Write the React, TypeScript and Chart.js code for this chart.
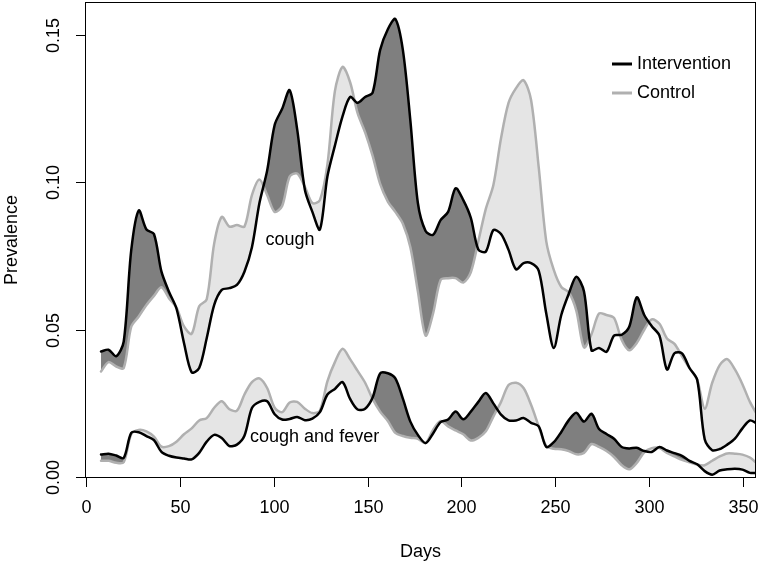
import React, { useEffect, useRef } from "react";
import Chart from "chart.js/auto";

const days = [8, 12, 16.1, 20.1, 24.1, 28.1, 32.2, 36.2, 40.2, 44.2, 48.2, 52.2, 56.3, 60.3, 64.3, 68.3, 72.3, 76.4, 80.4, 84.4, 88.4, 92.4, 96.5, 100.5, 104.5, 108.5, 112.5, 116.6, 120.6, 124.6, 128.6, 132.6, 136.7, 140.7, 144.7, 148.7, 152.7, 156.7, 160.8, 164.8, 168.8, 172.8, 176.8, 180.9, 184.9, 188.9, 192.9, 196.9, 201, 205, 209, 213, 217, 221.1, 225.1, 229.1, 233.1, 237.1, 241.2, 245.2, 249.2, 253.2, 257.2, 261.2, 265.3, 269.3, 273.3, 277.3, 281.3, 285.4, 289.4, 293.4, 297.4, 301.4, 305.5, 309.5, 313.5, 317.5, 321.5, 325.6, 329.6, 333.6, 337.6, 341.6, 345.7, 349.7, 353.7, 357.7];

const coughIntervention = [0.0426, 0.0432, 0.041, 0.046, 0.077, 0.0905, 0.084, 0.0825, 0.0697, 0.0629, 0.0572, 0.0455, 0.0355, 0.037, 0.0471, 0.0584, 0.0635, 0.0641, 0.0652, 0.0697, 0.078, 0.093, 0.104, 0.1195, 0.125, 0.1313, 0.118, 0.0975, 0.09, 0.084, 0.102, 0.1125, 0.1225, 0.129, 0.127, 0.129, 0.1305, 0.145, 0.152, 0.1555, 0.145, 0.121, 0.093, 0.0835, 0.0822, 0.0872, 0.09, 0.098, 0.094, 0.088, 0.0772, 0.0765, 0.0838, 0.0825, 0.0771, 0.0705, 0.0726, 0.0726, 0.07, 0.0555, 0.0438, 0.055, 0.0622, 0.068, 0.063, 0.043, 0.0438, 0.0425, 0.048, 0.0483, 0.051, 0.061, 0.055, 0.0512, 0.048, 0.0365, 0.042, 0.042, 0.037, 0.033, 0.0128, 0.0091, 0.0095, 0.011, 0.013, 0.0165, 0.0192, 0.018];

const coughControl = [0.0358, 0.039, 0.0375, 0.037, 0.051, 0.0545, 0.0584, 0.0615, 0.0644, 0.0607, 0.0575, 0.0511, 0.0486, 0.058, 0.0603, 0.0793, 0.0883, 0.085, 0.0855, 0.085, 0.0957, 0.101, 0.0957, 0.09, 0.092, 0.102, 0.103, 0.0985, 0.093, 0.094, 0.106, 0.131, 0.1392, 0.134, 0.1235, 0.117, 0.109, 0.0995, 0.0935, 0.09, 0.086, 0.078, 0.063, 0.048, 0.0555, 0.0669, 0.0675, 0.0675, 0.066, 0.0695, 0.08, 0.091, 0.099, 0.115, 0.127, 0.132, 0.1347, 0.128, 0.105, 0.08, 0.0703, 0.0645, 0.0627, 0.0565, 0.044, 0.0485, 0.0555, 0.055, 0.054, 0.0465, 0.043, 0.0455, 0.05, 0.0535, 0.052, 0.047, 0.0452, 0.041, 0.037, 0.033, 0.0232, 0.032, 0.038, 0.04, 0.0365, 0.0315, 0.0255, 0.021];

const feverIntervention = [0.0076, 0.0079, 0.0073, 0.0065, 0.015, 0.0152, 0.0139, 0.0125, 0.0085, 0.0072, 0.0066, 0.0063, 0.006, 0.0082, 0.012, 0.0143, 0.0132, 0.0105, 0.011, 0.014, 0.0234, 0.0255, 0.0257, 0.0213, 0.0195, 0.0197, 0.0204, 0.0193, 0.0198, 0.022, 0.028, 0.0299, 0.0322, 0.0265, 0.0229, 0.0232, 0.027, 0.0352, 0.0352, 0.0335, 0.0266, 0.0188, 0.0143, 0.0115, 0.0148, 0.0186, 0.0195, 0.0222, 0.0196, 0.0222, 0.0255, 0.0285, 0.025, 0.0212, 0.0192, 0.0192, 0.02, 0.0184, 0.0172, 0.0102, 0.0118, 0.0153, 0.0193, 0.0218, 0.0188, 0.0215, 0.0163, 0.0146, 0.013, 0.0102, 0.0097, 0.0099, 0.0088, 0.0085, 0.0102, 0.009, 0.0081, 0.0072, 0.0055, 0.0043, 0.002, 0.0008, 0.0022, 0.0026, 0.0028, 0.0025, 0.0014, 0.0014];

const feverControl = [0.0055, 0.0055, 0.0048, 0.005, 0.0145, 0.016, 0.0155, 0.0137, 0.0103, 0.0105, 0.012, 0.0145, 0.0165, 0.0192, 0.02, 0.0235, 0.0257, 0.023, 0.0225, 0.028, 0.0322, 0.0335, 0.0302, 0.0235, 0.022, 0.0253, 0.0255, 0.0232, 0.0217, 0.0225, 0.0325, 0.039, 0.0435, 0.04, 0.036, 0.032, 0.0265, 0.0222, 0.019, 0.015, 0.0139, 0.0133, 0.013, 0.0115, 0.016, 0.019, 0.0172, 0.0158, 0.0145, 0.0124, 0.0133, 0.0155, 0.0205, 0.0255, 0.0312, 0.032, 0.0302, 0.0245, 0.0172, 0.0105, 0.0096, 0.0094, 0.0088, 0.0077, 0.0082, 0.0112, 0.0102, 0.0088, 0.0068, 0.004, 0.0026, 0.0048, 0.0084, 0.0098, 0.0098, 0.0082, 0.007, 0.0058, 0.005, 0.0042, 0.004, 0.0055, 0.007, 0.008, 0.0079, 0.0076, 0.0066, 0.0045];

const xTicks = [0, 50, 100, 150, 200, 250, 300, 350];
const yTicks = [0, 0.05, 0.1, 0.15];
const yTickLabels = ["0.00", "0.05", "0.10", "0.15"];
const seriesNames = ["Intervention", "Control"];
const curveLabels = ["cough", "cough and fever"];
const xTitle = "Days";
const yTitle = "Prevalence";

const FONT = '18px "Liberation Sans", Arial, Helvetica, sans-serif';
const BLACK = "#000000";
const GRAY = "#b0b0b0";
const DARK = "#7f7f7f";
const LIGHT = "#e5e5e5";

const pts = (ys: number[]) => days.map((d, i) => ({ x: d, y: ys[i] }));

const rAxes = {
  id: "rAxes",
  afterDraw(chart: any) {
    const { ctx, chartArea: a, scales } = chart;
    const xs = scales.x;
    const ys = scales.y;
    ctx.save();
    ctx.strokeStyle = "#000";
    ctx.fillStyle = "#000";
    ctx.lineWidth = 1;
    // box
    ctx.strokeRect(Math.round(a.left) - 0.5, Math.round(a.top) - 0.5, Math.round(a.right - a.left) + 1, Math.round(a.bottom - a.top) + 1);
    ctx.font = FONT;
    // x axis ticks
    ctx.textAlign = "center";
    ctx.textBaseline = "middle";
    xTicks.forEach((v) => {
      const px = Math.round(xs.getPixelForValue(v)) + 0.5;
      ctx.beginPath();
      ctx.moveTo(px, a.bottom);
      ctx.lineTo(px, a.bottom + 10);
      ctx.stroke();
      ctx.fillText(String(v), px, a.bottom + 31);
    });
    ctx.fillText(xTitle, (a.left + a.right) / 2, a.bottom + 75);
    // y axis ticks
    yTicks.forEach((v, i) => {
      const py = Math.round(ys.getPixelForValue(v)) + 0.5;
      ctx.beginPath();
      ctx.moveTo(a.left, py);
      ctx.lineTo(a.left - 10, py);
      ctx.stroke();
      ctx.save();
      ctx.translate(a.left - 32, py);
      ctx.rotate(-Math.PI / 2);
      ctx.fillText(yTickLabels[i], 0, 0);
      ctx.restore();
    });
    ctx.save();
    ctx.translate(a.left - 74, (a.top + a.bottom) / 2);
    ctx.rotate(-Math.PI / 2);
    ctx.fillText(yTitle, 0, 0);
    ctx.restore();
    // curve labels
    ctx.fillText(curveLabels[0], xs.getPixelForValue(108.7), ys.getPixelForValue(0.0803));
    ctx.textAlign = "left";
    ctx.fillText(curveLabels[1], xs.getPixelForValue(87.4), ys.getPixelForValue(0.0135));
    // legend
    const lx0 = a.right - 143;
    const lx1 = a.right - 123;
    const rows = [a.top + 61, a.top + 90];
    const cols = [BLACK, GRAY];
    rows.forEach((ry, i) => {
      ctx.strokeStyle = cols[i];
      ctx.lineWidth = 3;
      ctx.beginPath();
      ctx.moveTo(lx0, ry);
      ctx.lineTo(lx1, ry);
      ctx.stroke();
      ctx.fillStyle = "#000";
      ctx.fillText(seriesNames[i], a.right - 118, ry);
    });
    ctx.restore();
  },
};

export default function App() {
  const ref = useRef<HTMLCanvasElement | null>(null);
  useEffect(() => {
    if (!ref.current) return;
    const common = { pointRadius: 0, borderWidth: 2.5, tension: 0.3, borderJoinStyle: "round", borderCapStyle: "round" };
    const chart = new Chart(ref.current, {
      type: "line",
      data: {
        datasets: [
          { ...common, label: "Intervention cough", data: pts(coughIntervention), borderColor: BLACK, fill: { target: 1, above: DARK, below: LIGHT } },
          { ...common, label: "Control cough", data: pts(coughControl), borderColor: GRAY, fill: false },
          { ...common, label: "Intervention cough and fever", data: pts(feverIntervention), borderColor: BLACK, fill: { target: 3, above: DARK, below: LIGHT } },
          { ...common, label: "Control cough and fever", data: pts(feverControl), borderColor: GRAY, fill: false },
        ] as any,
      },
      options: {
        animation: false,
        responsive: false,
        events: [],
        layout: { padding: { left: 86, right: 5, top: 3, bottom: 89 } },
        scales: {
          x: { type: "linear", min: 0, max: 356.4, display: false },
          y: { type: "linear", min: 0, max: 0.1609, display: false },
        },
        plugins: {
          legend: { display: false },
          tooltip: { enabled: false },
          filler: { drawTime: "beforeDatasetsDraw" },
        } as any,
      },
      plugins: [rAxes],
    });
    return () => chart.destroy();
  }, []);
  return (
    <div style={{ position: "fixed", left: 0, top: 0, width: 760, height: 566, background: "#fff" }}>
      <canvas ref={ref} width={760} height={566} style={{ display: "block" }} />
    </div>
  );
}
